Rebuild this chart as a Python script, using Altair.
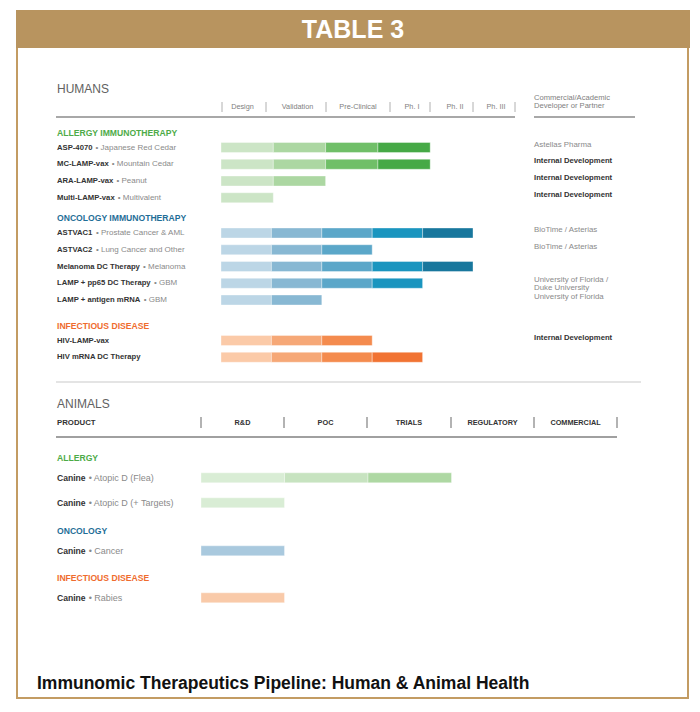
import altair as alt
import pandas as pd

# ---------------- data ----------------
human_stages = ["Design", "Validation", "Pre-Clinical", "Ph. I", "Ph. II", "Ph. III"]
animal_stages = ["R&D", "POC", "TRIALS", "REGULATORY", "COMMERCIAL"]

human_sections = ["ALLERGY IMMUNOTHERAPY", "ONCOLOGY IMMUNOTHERAPY", "INFECTIOUS DISEASE"]
animal_sections = ["ALLERGY", "ONCOLOGY", "INFECTIOUS DISEASE"]

h_allergy_names = ["ASP-4070", "MC-LAMP-vax", "ARA-LAMP-vax", "Multi-LAMP-vax"]
h_allergy_subs = ["Japanese Red Cedar", "Mountain Cedar", "Peanut", "Multivalent"]
h_allergy_stage = [4, 4, 2, 1]
h_allergy_partner = ["Astellas Pharma", "Internal Development", "Internal Development", "Internal Development"]

h_onc_names = ["ASTVAC1", "ASTVAC2", "Melanoma DC Therapy", "LAMP + pp65 DC Therapy", "LAMP + antigen mRNA"]
h_onc_subs = ["Prostate Cancer & AML", "Lung Cancer and Other", "Melanoma", "GBM", "GBM"]
h_onc_stage = [5, 3, 5, 4, 2]
h_onc_partner = ["BioTime / Asterias", "BioTime / Asterias", "",
                 "University of Florida /\nDuke University", "University of Florida"]

h_inf_names = ["HIV-LAMP-vax", "HIV mRNA DC Therapy"]
h_inf_subs = ["", ""]
h_inf_stage = [3, 4]
h_inf_partner = ["Internal Development", ""]

a_allergy_names = ["Canine", "Canine"]
a_allergy_subs = ["Atopic D (Flea)", "Atopic D (+ Targets)"]
a_allergy_stage = [3, 1]
a_onc_names = ["Canine"]
a_onc_subs = ["Cancer"]
a_onc_stage = [1]
a_inf_names = ["Canine"]
a_inf_subs = ["Rabies"]
a_inf_stage = [1]

header_title = "TABLE 3"
caption = "Immunomic Therapeutics Pipeline: Human & Animal Health"
partner_head = ["Commercial/Academic", "Developer or Partner"]

# ---------------- styles / layout ----------------
FONT = "Liberation Sans"
OFF = 8
W, H = 684, 696


def px(v):
    return v - OFF


sec_colors = ["#4dab47", "#1f6e97", "#ef6c2e"]
h_pal = [
    ["#cce5c6", "#acd7a2", "#70bf68", "#46a946"],
    ["#bcd6e6", "#88b8d3", "#5ba7c9", "#1a95bf", "#18779d"],
    ["#fbcaa8", "#f6a877", "#f48b4e", "#f17333"],
]
a_pal = [
    ["#d9edd5", "#c7e3c0", "#aed8a3"],
    ["#a9c9de"],
    ["#f9caa9"],
]

# Liberation Sans Bold advance widths (per 1000 em), for placing the subtitle after the bold name
AB = {' ': 278, '-': 333, '+': 584, '&': 722, '(': 333, ')': 333, '/': 278, ':': 333, '.': 278}
for c in "0123456789":
    AB[c] = 556
AB.update(dict(zip("ABCDEFGHIJKLMNOPQRSTUVWXYZ",
                   [722, 722, 722, 722, 667, 611, 778, 722, 278, 556, 722, 611, 833, 722, 778, 667, 778, 722,
                    667, 611, 722, 667, 944, 667, 667, 611])))
AB.update(dict(zip("abcdefghijklmnopqrstuvwxyz",
                   [556, 611, 556, 611, 556, 333, 611, 611, 278, 278, 556, 278, 889, 611, 611, 611, 611, 389,
                    556, 333, 611, 556, 778, 556, 556, 500])))


def tw(s, size):
    return sum(AB.get(c, 556) for c in s) / 1000.0 * size


IDX = alt.Scale(domain=[0, W], range=[0, W])
IDY = alt.Scale(domain=[0, H], range=[0, H])

# ---------------- build tables ----------------
h_groups = [
    (h_allergy_names, h_allergy_subs, h_allergy_stage, h_allergy_partner, "hA"),
    (h_onc_names, h_onc_subs, h_onc_stage, h_onc_partner, "hB"),
    (h_inf_names, h_inf_subs, h_inf_stage, h_inf_partner, "hB"),
]
a_groups = [
    (a_allergy_names, a_allergy_subs, a_allergy_stage, None, "an"),
    (a_onc_names, a_onc_subs, a_onc_stage, None, "an"),
    (a_inf_names, a_inf_subs, a_inf_stage, None, "an"),
]
h_head_y = [132.5, 218, 325.5]
a_head_y = [458, 531, 578]

NAME_SIZE = {"h": 7.7, "a": 8.6}
SUB_SIZE = {"h": 8.0, "a": 9.0}

sec_rows, name_rows, sub_rows, part_rows, bar_rows = [], [], [], [], []


def build(groups, titles, head_ys, pals, first_off, spacing, kind):
    for gi, (names, subs, stages, partners, sc) in enumerate(groups):
        hy = head_ys[gi]
        sec_rows.append({"text": titles[gi], "y": px(hy), "color": sec_colors[gi]})
        for i, nm in enumerate(names):
            ry = hy + first_off + i * spacing
            name_rows.append({"text": nm, "y": px(ry), "kind": kind})
            if subs[i]:
                sub_rows.append({"text": "\u2022 " + subs[i], "y": px(ry),
                                 "x": px(57 + tw(nm, NAME_SIZE[kind]) + 3), "kind": kind})
            if partners is not None and partners[i]:
                for li, line in enumerate(partners[i].split("\n")):
                    part_rows.append({"text": line, "y": px(ry - 3 + li * 8),
                                      "bold": line == "Internal Development"})
            for k in range(stages[i]):
                bar_rows.append({"sc": sc, "x0": k, "x1": k + 1,
                                 "y0": px(ry - 5), "y1": px(ry + 5), "color": pals[gi][k]})


build(h_groups, human_sections, h_head_y, h_pal, 15.0, 16.75, "h")
build(a_groups, animal_sections, a_head_y, a_pal, 19.8, 25.0, "a")

sec_df = pd.DataFrame(sec_rows)
name_df = pd.DataFrame(name_rows)
sub_df = pd.DataFrame(sub_rows)
part_df = pd.DataFrame(part_rows)
bar_df = pd.DataFrame(bar_rows)

one = alt.Data(values=[{"a": 1}])


def const_rect(x1, x2, y1, y2, **kw):
    return alt.Chart(one).mark_rect(**kw).encode(
        x=alt.value(px(x1)), x2=alt.value(px(x2)), y=alt.value(px(y1)), y2=alt.value(px(y2)))


def const_rule(x1, x2, y1, y2, color, width):
    return alt.Chart(one).mark_rule(color=color, strokeWidth=width).encode(
        x=alt.value(px(x1)), x2=alt.value(px(x2)), y=alt.value(px(y1)), y2=alt.value(px(y2)))


def const_text(txt, x, y, **kw):
    return alt.Chart(one).mark_text(text=txt, **kw).encode(x=alt.value(px(x)), y=alt.value(px(y)))


layers = []
# frame and banner
layers.append(const_rect(17, 688, 47, 698, fill="white", stroke="#c39c63", strokeWidth=2))
layers.append(const_rect(16, 690, 10, 48, fill="#b8945f"))
layers.append(const_text(header_title, 353, 30, font=FONT, fontSize=25, fontWeight="bold",
                         color="white", align="center", baseline="middle"))

# HUMANS header
layers.append(const_text("HUMANS", 57, 89, font=FONT, fontSize=12, color="#616161",
                         align="left", baseline="middle"))
hsep_df = pd.DataFrame({"x": [px(v) for v in [222, 266, 326, 390, 430, 473, 515]]})
layers.append(alt.Chart(hsep_df).mark_rule(color="#b0b0b0", strokeWidth=1).encode(
    x=alt.X("x:Q", scale=IDX, axis=None), y=alt.value(px(102)), y2=alt.value(px(112))))
hlab_df = pd.DataFrame({"text": human_stages, "x": [px(v) for v in [242.5, 297.5, 358, 412, 455, 496]]})
layers.append(alt.Chart(hlab_df).mark_text(font=FONT, fontSize=7.3, color="#808080", align="center",
                                           baseline="middle").encode(
    x=alt.X("x:Q", scale=IDX, axis=None), y=alt.value(px(107)), text="text:N"))
layers.append(const_rule(56, 515, 117, 117, "#a8a8a8", 2))
layers.append(const_rule(534, 635, 117, 117, "#a8a8a8", 2))
layers.append(const_text(partner_head[0], 534, 98, font=FONT, fontSize=7.6, color="#808080",
                         align="left", baseline="middle"))
layers.append(const_text(partner_head[1], 534, 106, font=FONT, fontSize=7.6, color="#808080",
                         align="left", baseline="middle"))

# divider
layers.append(const_rule(56, 641, 382, 382, "#e4e4e4", 2))

# ANIMALS header
layers.append(const_text("ANIMALS", 57, 404, font=FONT, fontSize=12, color="#616161",
                         align="left", baseline="middle"))
layers.append(const_text("PRODUCT", 57, 423, font=FONT, fontSize=7.8, fontWeight="bold", color="#333333",
                         align="left", baseline="middle"))
asep_df = pd.DataFrame({"x": [px(v) for v in [201, 284, 367, 451, 534, 617]]})
layers.append(alt.Chart(asep_df).mark_rule(color="#9a9a9a", strokeWidth=1.5).encode(
    x=alt.X("x:Q", scale=IDX, axis=None), y=alt.value(px(417)), y2=alt.value(px(428))))
alab_df = pd.DataFrame({"text": animal_stages, "x": [px(v) for v in [242.5, 325.5, 409, 492.5, 575.5]]})
layers.append(alt.Chart(alab_df).mark_text(font=FONT, fontSize=7.3, fontWeight="bold", color="#333333",
                                           align="center", baseline="middle").encode(
    x=alt.X("x:Q", scale=IDX, axis=None), y=alt.value(px(423)), text="text:N"))
layers.append(const_rule(56, 617, 437, 437, "#a0a0a0", 2))

# bars
scales = {
    "hA": alt.Scale(domain=[0, 6], range=[px(221), px(221) + 6 * 52.3]),
    "hB": alt.Scale(domain=[0, 6], range=[px(221), px(221) + 6 * 50.4]),
    "an": alt.Scale(domain=[0, 5], range=[px(201), px(201) + 5 * 83.5]),
}
for key, sc in scales.items():
    d = bar_df[bar_df["sc"] == key]
    layers.append(alt.Chart(d).mark_rect(stroke="white", strokeWidth=0.6, strokeOpacity=0.6).encode(
        x=alt.X("x0:Q", scale=sc, axis=None), x2="x1:Q",
        y=alt.Y("y0:Q", scale=IDY, axis=None), y2="y1:Q",
        color=alt.Color("color:N", scale=None)))

# section headings
layers.append(alt.Chart(sec_df).mark_text(font=FONT, fontSize=8.6, fontWeight="bold", align="left",
                                          baseline="middle").encode(
    x=alt.value(px(57)), y=alt.Y("y:Q", scale=IDY, axis=None), text="text:N",
    color=alt.Color("color:N", scale=None)))

# product names and subtitles
for kind in ["h", "a"]:
    layers.append(alt.Chart(name_df[name_df["kind"] == kind]).mark_text(
        font=FONT, fontSize=NAME_SIZE[kind], fontWeight="bold", color="#333333", align="left",
        baseline="middle").encode(
        x=alt.value(px(57)), y=alt.Y("y:Q", scale=IDY, axis=None), text="text:N"))
    layers.append(alt.Chart(sub_df[sub_df["kind"] == kind]).mark_text(
        font=FONT, fontSize=SUB_SIZE[kind], color="#8a8a8a", align="left", baseline="middle").encode(
        x=alt.X("x:Q", scale=IDX, axis=None), y=alt.Y("y:Q", scale=IDY, axis=None), text="text:N"))

# partners
layers.append(alt.Chart(part_df[part_df["bold"]]).mark_text(
    font=FONT, fontSize=7.7, fontWeight="bold", color="#333333", align="left", baseline="middle").encode(
    x=alt.value(px(534)), y=alt.Y("y:Q", scale=IDY, axis=None), text="text:N"))
layers.append(alt.Chart(part_df[~part_df["bold"]]).mark_text(
    font=FONT, fontSize=7.9, color="#8a8a8a", align="left", baseline="middle").encode(
    x=alt.value(px(534)), y=alt.Y("y:Q", scale=IDY, axis=None), text="text:N"))

# caption
layers.append(const_text(caption, 37, 689, font=FONT, fontSize=17.5, fontWeight="bold", color="#111111",
                         align="left", baseline="alphabetic"))

chart = alt.layer(*layers).resolve_scale(x="independent").properties(
    width=W, height=H, autosize="none", padding=0, background="white"
).configure_view(stroke=None)

chart.save("out.html", embed_options={"renderer": "svg", "actions": False})
